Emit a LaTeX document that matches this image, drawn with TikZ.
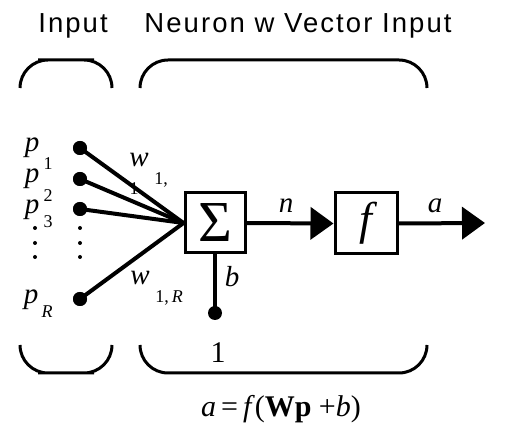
\documentclass[tikz,border=0pt]{standalone}
\usepackage{fontspec}
\setmainfont{Liberation Serif}
\newfontfamily\hel[LetterSpace=7.5]{Liberation Sans}
\usetikzlibrary{arrows.meta}
\tikzset{
  lab/.style={inner sep=0, anchor=base, font=\fontsize{29}{30}\selectfont\itshape},
  subl/.style={inner sep=0, anchor=base, font=\fontsize{18}{18}\selectfont},
  ttl/.style={inner sep=0, anchor=base, font=\fontsize{27.5}{28}\selectfont\hel},
  bigdot/.style={circle, fill=black, inner sep=0, minimum size=14pt},
  smalldot/.style={circle, fill=black, inner sep=0, minimum size=4pt},
  blockbox/.style={draw, line width=3pt, minimum size=60pt, inner sep=0},
  wire/.style={line width=4pt},
  brace/.style={line width=3pt, rounded corners=28pt},
  arr/.style={wire, -{Triangle[length=23pt,width=32pt]}}
}
\begin{document}
\begin{tikzpicture}[x=1pt,y=-1pt]
\useasboundingbox (0,0) rectangle (520,438);
% titles
\node[ttl] (tin) at (73,33) {Input};
\node[ttl] (tneu) at (298,33) {Neuron w Vector Input};
% braces
\draw[brace] (20,88) |- (66,60) -| (112,88);
\draw[brace] (140,88) |- (283,60) -| (427,88);
\draw[brace] (20,345) |- (66,373) -| (112,345);
\draw[brace] (140,345) |- (283,373) -| (427,345);
% blocks
\node[blockbox, font=\fontsize{58}{58}\selectfont] (sum) at (215,223) {\raisebox{-3pt}{Σ}};
\node[blockbox, minimum width=62pt, minimum height=61pt, font=\fontsize{46}{46}\selectfont\itshape] (f) at (366,223.5) {\raisebox{-4pt}{f}};
% input dots
\node[bigdot] (d1) at (80,148) {};
\node[bigdot] (d2) at (80,179) {};
\node[bigdot] (d3) at (80,209) {};
\node[bigdot] (dR) at (80,299) {};
\foreach \n/\y in {a/228,b/243,c/257}{
  \node[smalldot] (l\n) at (35,\y) {};
  \node[smalldot] (r\n) at (80,\y) {};
}
% connectors
\draw[wire] (d1.center) -- (sum.west);
\draw[wire] (d2.center) -- (sum.west);
\draw[wire] (d3.center) -- (sum.west);
\draw[wire] (dR.center) -- (sum.west);
\node[bigdot] at (d1) {};
\node[bigdot] at (d2) {};
\node[bigdot] at (d3) {};
\node[bigdot] at (dR) {};
\node[bigdot] (bdot) at (215,313) {};
\draw[wire] (sum.south) -- (bdot.center);
\draw[arr] (sum.east) -- (f.west);
\coordinate (out) at (485,223);
\draw[arr] (f.east) -- (out);
% input labels
\node[lab] (p1) at (32,152) {p};
\node[subl] (s1) at (48,170) {1};
\node[lab] (p2) at (32,183) {p};
\node[subl] (s2) at (48,202) {2};
\node[lab] (p3) at (32,214) {p};
\node[subl] (s3) at (48,228) {3};
\node[lab] (pR) at (31,304) {p};
\node[subl, font=\fontsize{18}{18}\selectfont\itshape] (sR) at (47,318) {R};
% weights
\node[lab] (w1) at (139,167) {w};
\node[subl] (w1s) at (161,185) {1,};
\node[subl] (w1t) at (134,195) {1};
\node[lab] (wR) at (140,285) {w};
\node[subl] (wRs) at (169,303) {1,\,\textit{R}};
% other labels
\node[lab] (nl) at (286,213) {n};
\node[lab] (al) at (435,213) {a};
\node[lab] (bl) at (232,287) {b};
\node[lab, font=\fontsize{30}{30}\selectfont] (one) at (218,363) {1};
\node[lab, font=\fontsize{30}{30}\selectfont] (eq) at (281,417) {\textit{a}\,=\,\textit{f}(\textbf{Wp} +\textit{b})};
\end{tikzpicture}
\end{document}
